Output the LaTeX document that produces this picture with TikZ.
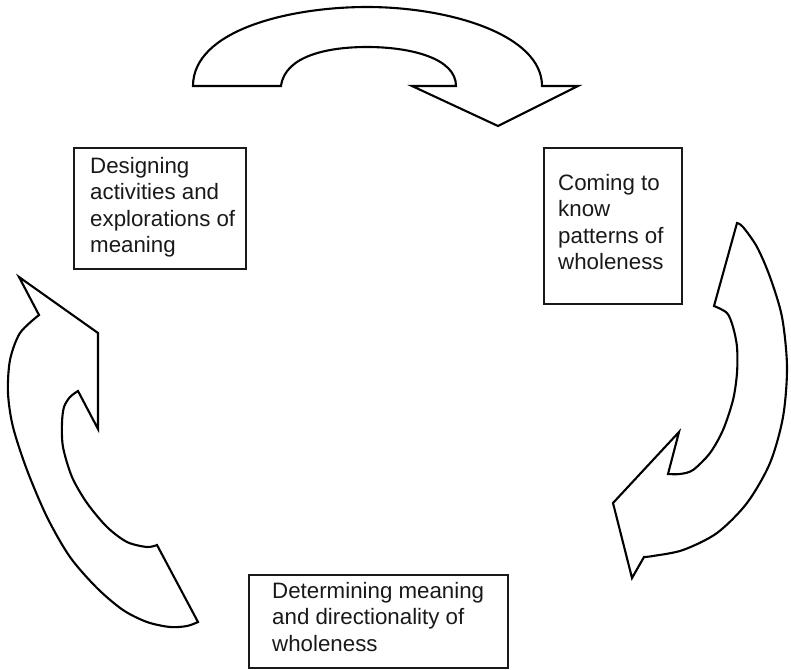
\documentclass[tikz,border=0pt]{standalone}
\usepackage{fontspec}
\setmainfont{Liberation Sans}
\begin{document}
\begin{tikzpicture}[x=1pt,y=-1pt,
  frame/.style={draw=black!90,line width=2.2pt,anchor=north west,inner sep=0pt},
  caption/.style={anchor=north west,inner sep=0pt,align=left,
    font=\fontsize{22.3}{26.5}\selectfont,text=black!90},
  bentarrow/.style={draw=black,line width=2.1pt,line join=miter,fill=white}]
\useasboundingbox (0,0) rectangle (791,669);

% three stages of the cycle
\node[frame,minimum width=172pt,minimum height=121pt] (designbox) at (73,147) {};
\node[caption] (designtext) at (90,157) {Designing\\activities and\\explorations of\\meaning};

\node[frame,minimum width=138pt,minimum height=156pt] (comingbox) at (543,147) {};
\node[caption] (comingtext) at (558,174) {Coming to\\know\\patterns of\\wholeness};

\node[frame,minimum width=259pt,minimum height=93pt] (determbox) at (248,574) {};
\node[caption] (determtext) at (272,582) {Determining meaning\\and directionality of\\wholeness};

% top arrow, bending to the right
\draw[bentarrow] (193,86) .. controls (193,30) and (290,7) .. (367,7)
  .. controls (450,7) and (542,35) .. (542,86) -- (578,86) -- (498,126)
  -- (412,86) -- (456,86) .. controls (456,58) and (410,47) .. (367,47)
  .. controls (330,47) and (285,55) .. (281,86) -- cycle;

% right arrow, bending downwards
\draw[bentarrow] (737,223) -- (714,306)
  -- plot[smooth] coordinates {(714,306) (727,313) (733,327) (737,347) (737,373)
     (733,400) (723,430) (710,453) (693,470) (680,474) (668,474)}
  -- (679,432) -- (613,503) -- (632,578) -- (644,557)
  -- plot[smooth] coordinates {(644,557) (653,556) (683,550) (717,533) (747,503)
     (770,463) (783,417) (787,367) (782,317) (770,277) (757,247) (743,227) (737,223)}
  -- cycle;

% left arrow, bending upwards
\draw[bentarrow] (19,277) -- (98,333) -- (98,429) -- (78,391)
  -- plot[smooth] coordinates {(78,391) (70,397) (64,407) (62,423) (63,447)
     (72,477) (87,503) (107,527) (127,542) (147,547) (157,545)}
  -- (198,622)
  -- plot[smooth] coordinates {(198,622) (187,626) (170,627) (147,622) (123,610)
     (97,588) (70,557) (47,517) (27,470) (13,427) (8,393) (10,360) (20,333) (39,315)}
  -- cycle;
\end{tikzpicture}
\end{document}
